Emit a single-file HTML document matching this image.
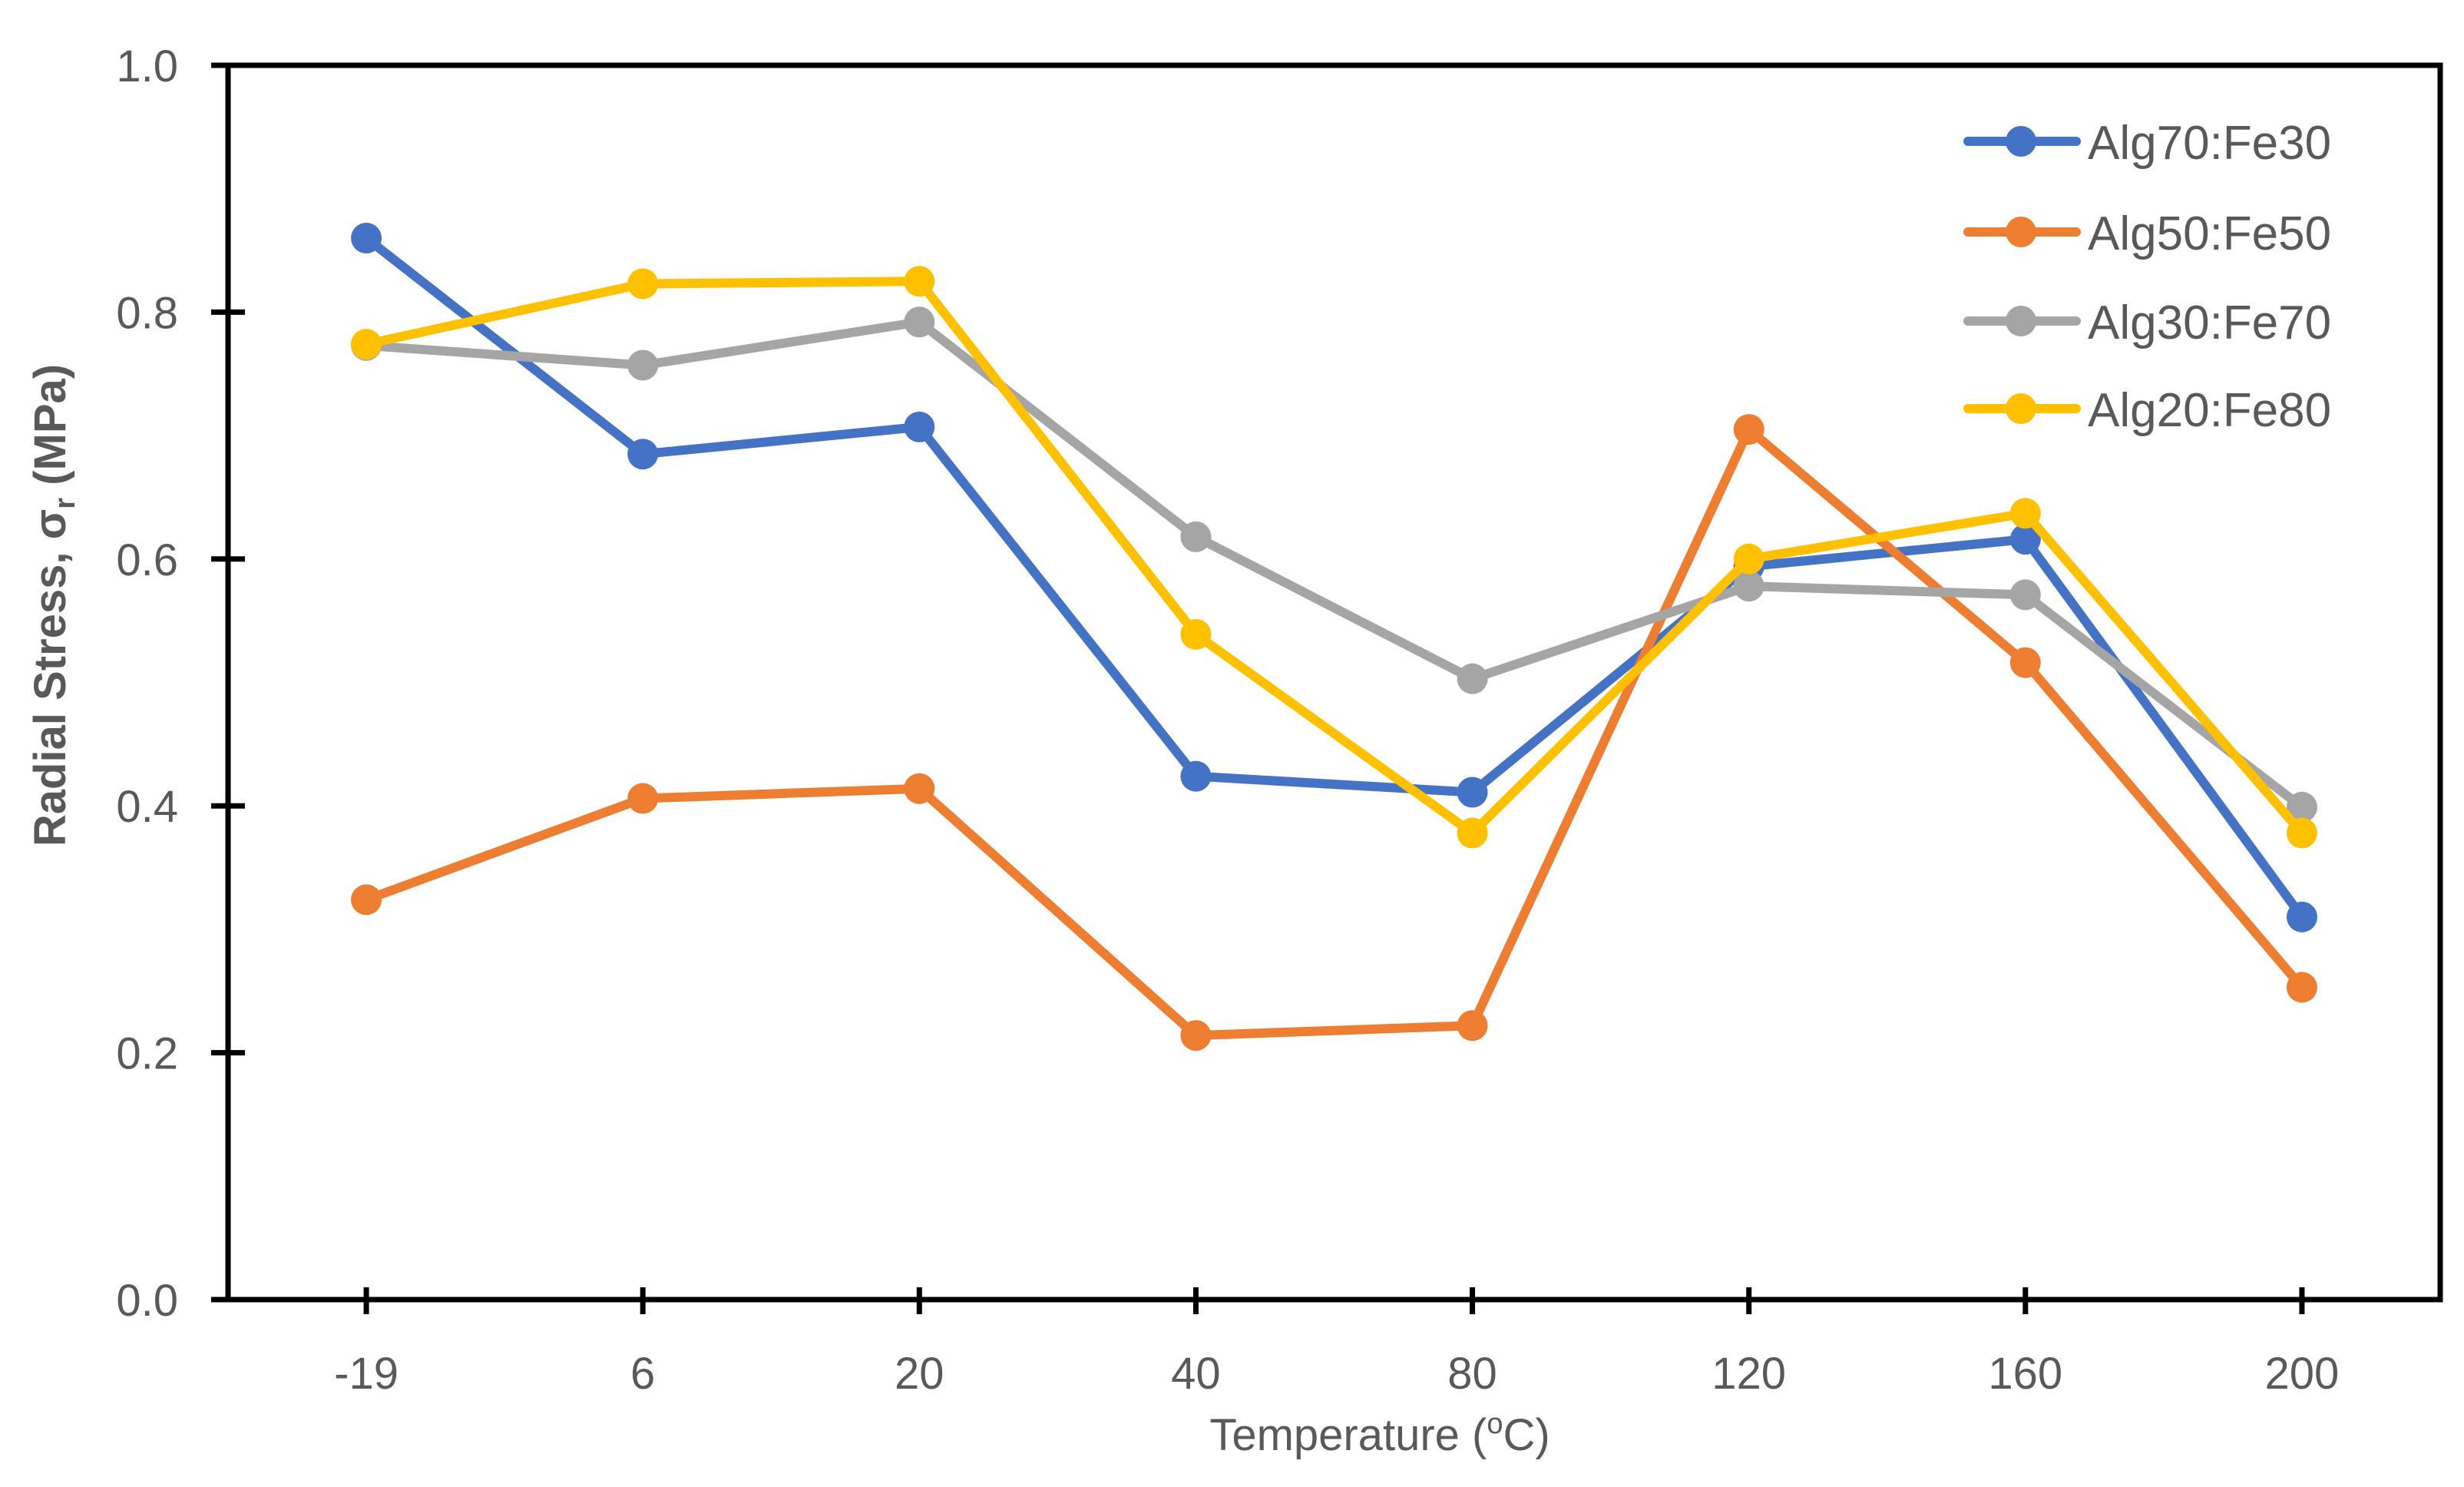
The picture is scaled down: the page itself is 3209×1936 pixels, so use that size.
<!DOCTYPE html>
<html><head><meta charset="utf-8"><style>
html,body{margin:0;padding:0;background:#fff;}
svg{display:block;font-family:"Liberation Sans",sans-serif;}
</style></head><body>
<svg id="chart" width="3209" height="1936" viewBox="0 0 3209 1936" xmlns="http://www.w3.org/2000/svg">
<rect width="3209" height="1936" fill="#fff"/>
<g id="grid"></g>
<g id="series"></g>
<g id="legend"></g>
<text x="1797" y="1888" text-anchor="middle" font-size="58" fill="#595959">Temperature (<tspan font-size="38" dy="-22">o</tspan><tspan dy="22">C)</tspan></text>
<text transform="translate(85,788) rotate(-90)" text-anchor="middle" font-size="58" font-weight="bold" fill="#595959">Radial Stress, σ<tspan font-size="38" dy="12">r</tspan><tspan dy="-12"> (MPa)</tspan></text>
</svg>
<script>
const categories = ["-19","6","20","40","80","120","160","200"];
const yTicks = [0.0,0.2,0.4,0.6,0.8,1.0];
const seriesNames = ["Alg70:Fe30","Alg50:Fe50","Alg30:Fe70","Alg20:Fe80"];
const seriesColors = ["#4472C4","#ED7D31","#A5A5A5","#FFC000"];
const alg70 = [0.86,0.685,0.707,0.424,0.411,0.594,0.616,0.31];
const alg50 = [0.324,0.406,0.414,0.214,0.222,0.705,0.516,0.253];
const alg30 = [0.773,0.757,0.792,0.618,0.503,0.578,0.571,0.399];
const alg20 = [0.774,0.823,0.825,0.539,0.378,0.6,0.637,0.378];
const seriesData = [alg70,alg50,alg30,alg20];

const L=297,R=3178,T=85,B=1692;
const NS="http://www.w3.org/2000/svg";
function xPos(i){return L+(R-L)/categories.length*(i+0.5);}
function yPos(v){return B-(B-T)*(v-0)/(1-0);}
function mk(tag,attrs,parent){const e=document.createElementNS(NS,tag);for(const k in attrs)e.setAttribute(k,attrs[k]);parent.appendChild(e);return e;}

const grid=document.getElementById('grid');
let ax=mk('rect',{x:L,y:T,width:R-L,height:B-T,fill:'none',stroke:'#000','stroke-width':7},grid);


yTicks.forEach(v=>{
  const y=yPos(v);
  let t=mk('line',{x1:L-22,x2:L+22,y1:y,y2:y,stroke:'#000','stroke-width':7},grid);
  
  
  let lb=mk('text',{x:232,y:y+21,'text-anchor':'end','font-size':58,fill:'#595959'},grid);
  lb.textContent=v.toFixed(1);
  
  
});
categories.forEach((c,i)=>{
  const x=xPos(i);
  let t=mk('line',{x1:x,x2:x,y1:B-16,y2:B+19,stroke:'#000','stroke-width':7},grid);
  
  
  let lb=mk('text',{x:x,y:1808,'text-anchor':'middle','font-size':58,fill:'#595959'},grid);
  lb.textContent=c;
  
  
});

const sg=document.getElementById('series');
seriesData.forEach((d,s)=>{
  const g=mk('g',{},sg);
  
  
  const pts=d.map((v,i)=>xPos(i)+','+yPos(v)).join(' ');
  const pl=mk('polyline',{points:pts,fill:'none',stroke:seriesColors[s],'stroke-width':12,'stroke-linejoin':'round','stroke-linecap':'round'},g);
  
  
  d.forEach((v,i)=>{
    const c=mk('circle',{cx:xPos(i),cy:yPos(v),r:20,fill:seriesColors[s]},g);
    
    
  });
});

const lg=document.getElementById('legend');
const legY=[184,302,418,532];
seriesNames.forEach((n,s)=>{
  const g=mk('g',{},lg);
  
  
  mk('line',{x1:2563,x2:2704,y1:legY[s],y2:legY[s],stroke:seriesColors[s],'stroke-width':12,'stroke-linecap':'round'},g);
  mk('circle',{cx:2632,cy:legY[s],r:20,fill:seriesColors[s]},g);
  const t=mk('text',{x:2719,y:legY[s]+23,'font-size':62,fill:'#595959'},g);
  t.textContent=n;
});
</script>
</body></html>
